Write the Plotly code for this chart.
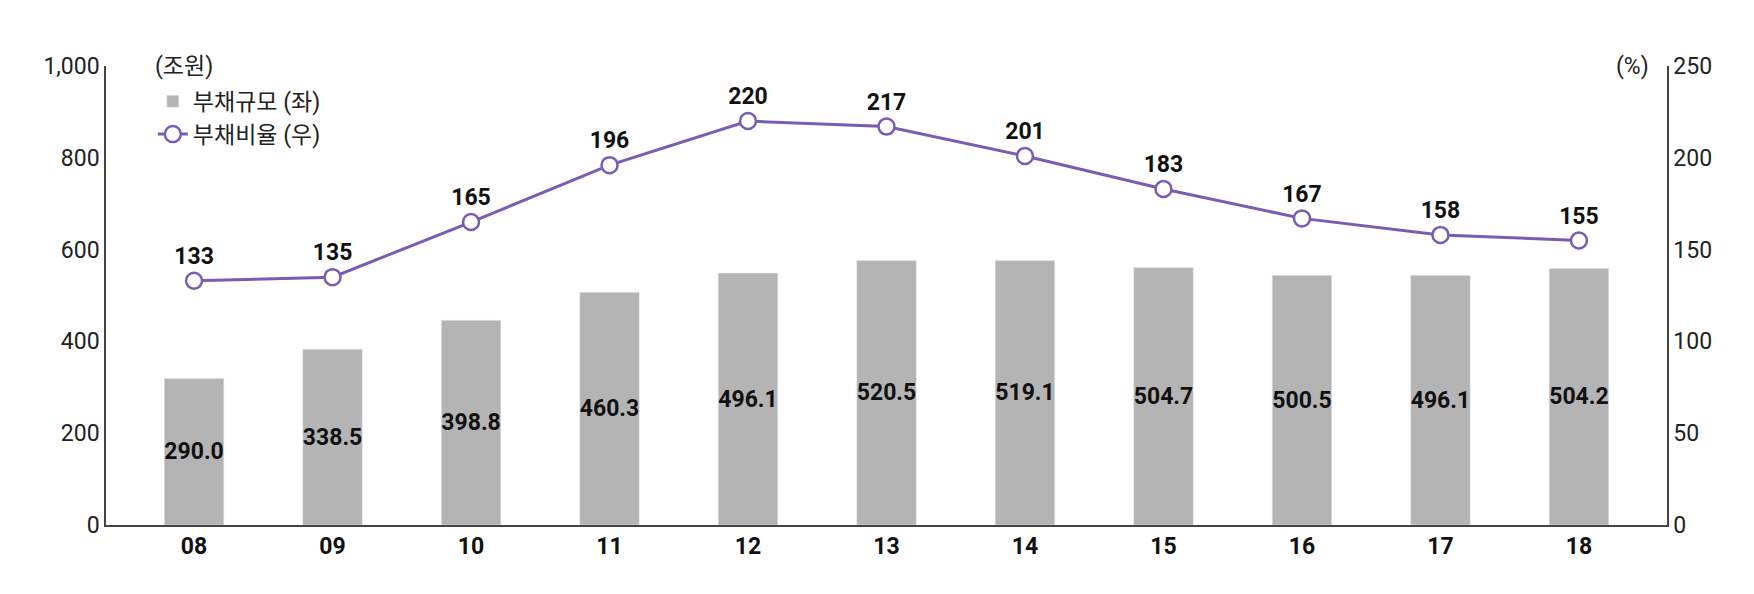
import plotly.graph_objects as go

years = ["08","09","10","11","12","13","14","15","16","17","18"]
debt_bar = [319, 383, 446, 507, 549, 576, 576, 561, 544, 544, 559]
debt_label = ["290.0","338.5","398.8","460.3","496.1","520.5","519.1","504.7","500.5","496.1","504.2"]
ratio = [133, 135, 165, 196, 220, 217, 201, 183, 167, 158, 155]

font = "Roboto, 'Noto Sans CJK KR'"
fig = go.Figure()
fig.add_trace(go.Bar(x=years, y=debt_bar, name="부채규모 (좌)", marker_color="#b4b4b4",
                     text=["<b>%s</b>" % t for t in debt_label], textposition="inside", insidetextanchor="middle",
                     textangle=0, constraintext="none",
                     textfont=dict(size=23, color="#111", family=font), width=0.43))
fig.add_trace(go.Scatter(x=years, y=ratio, yaxis="y2", name="부채비율 (우)", mode="lines+markers+text",
                         line=dict(color="#7a5cb4", width=3),
                         marker=dict(size=16, color="white", line=dict(color="#7a5cb4", width=2.5)),
                         text=["<b>%d</b>" % v for v in ratio], textposition="top center",
                         textfont=dict(size=23, color="#111", family=font)))
fig.update_layout(
    width=1754, height=594, plot_bgcolor="white", paper_bgcolor="white",
    margin=dict(l=98, r=95, t=58, b=77),
    font=dict(family=font, size=23, color="#222"),
    showlegend=True,
    legend=dict(x=0.03, y=0.97, xanchor="left", yanchor="top", font=dict(size=23), bgcolor="rgba(0,0,0,0)"),
    xaxis=dict(showline=True, linecolor="#444", linewidth=1.5, ticks="",
               tickfont=dict(size=23, color="#111"), tickprefix="<b>", ticksuffix="</b>"),
    yaxis=dict(range=[0, 1000], tickvals=[0,200,400,600,800,1000], tickformat=",", showgrid=False,
               showline=True, linecolor="#444", linewidth=1.5),
    yaxis2=dict(range=[0, 250], overlaying="y", side="right", tickvals=[0,50,100,150,200,250], showgrid=False,
                showline=True, linecolor="#444", linewidth=1.5),
    bargap=0.5,
)
fig.add_annotation(text="(조원)", xref="paper", yref="paper", x=0.03, y=1.0, xanchor="left", yanchor="middle",
                   showarrow=False, font=dict(size=23))
fig.add_annotation(text="(%)", xref="paper", yref="paper", x=0.99, y=1.0, xanchor="right", yanchor="middle",
                   showarrow=False, font=dict(size=23))
fig.write_html("out.html")
